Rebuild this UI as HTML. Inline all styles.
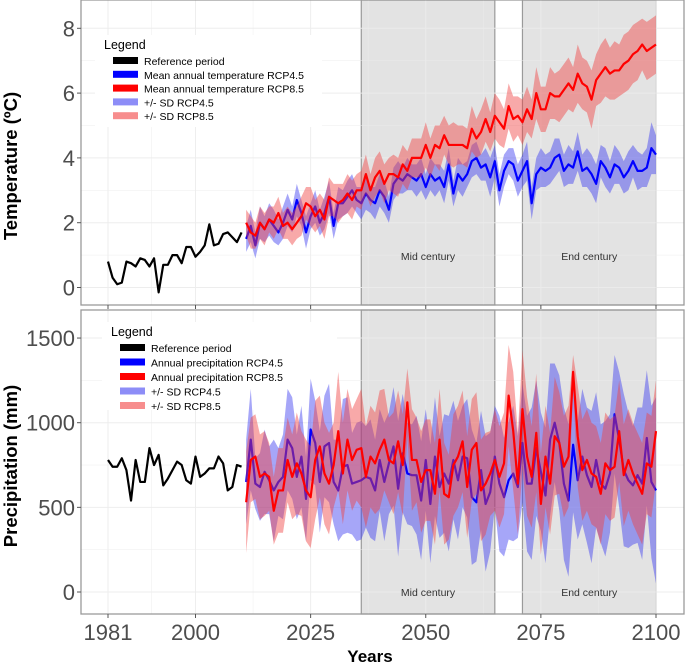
<!DOCTYPE html>
<html><head><meta charset="utf-8"><style>
html,body{margin:0;padding:0;background:#fff;}
svg{display:block;font-family:"Liberation Sans",sans-serif;}
</style></head><body>
<svg id="chart" width="685" height="665" viewBox="0 0 685 665" xmlns="http://www.w3.org/2000/svg"></svg>
<script>
const refYears=[1981,1982,1983,1984,1985,1986,1987,1988,1989,1990,1991,1992,1993,1994,1995,1996,1997,1998,1999,2000,2001,2002,2003,2004,2005,2006,2007,2008,2009,2010];
const xTicks=[1981,2000,2025,2050,2075,2100];
const tempTicks=[0,2,4,6,8];
const precTicks=[0,500,1000,1500];
const periods=[[2036,2065,"Mid century"],[2071,2100,"End century"]];
const refTemp=[0.8,0.3,0.1,0.15,0.8,0.75,0.65,0.9,0.85,0.65,0.9,-0.15,0.7,0.7,1.0,1.0,0.75,1.25,1.25,0.95,1.1,1.3,1.95,1.3,1.35,1.65,1.7,1.55,1.4,1.7];
const temp45=[1.5,1.9,1.3,2.0,1.8,2.1,1.9,1.7,2.0,2.4, 2.1,2.7,2.3,1.7,2.2,2.5,2.0,2.3,2.8,1.9, 2.6,2.6,2.8,3.0,2.7,2.6,2.9,2.7,2.6,3.0, 2.8,2.4,3.2,3.4,3.3,3.5,3.4,3.3,3.5,3.1, 3.5,3.3,3.4,3.1,3.8,2.9,3.5,3.3,3.5,3.9, 4.0,3.7,3.8,3.4,3.9,3.0,3.6,3.9,3.8,3.3, 3.6,3.9,2.6,3.5,3.7,3.6,3.7,4.0,4.1,3.6, 3.8,3.7,4.2,3.6,3.7,3.5,3.2,3.9,3.7,3.4, 3.8,3.7,3.4,3.6,3.9,3.6,3.6,3.7,4.3,4.1];
const sdTemp45=[0.4,0.5,0.4,0.5,0.4,0.5,0.5,0.4,0.5,0.5, 0.4,0.5,0.4,0.5,0.4,0.5,0.4,0.5,0.5,0.4, 0.5,0.4,0.5,0.5,0.4,0.5,0.5,0.4,0.5,0.5, 0.5,0.4,0.5,0.5,0.4,0.5,0.4,0.5,0.5,0.4, 0.5,0.5,0.4,0.5,0.5,0.4,0.5,0.5,0.4,0.5, 0.5,0.4,0.5,0.6,0.5,0.5,0.5,0.4,0.5,0.5, 0.5,0.6,0.5,0.5,0.6,0.5,0.5,0.6,0.5,0.5, 0.6,0.5,0.6,0.5,0.6,0.6,0.6,0.5,0.6,0.5, 0.6,0.5,0.5,0.6,0.5,0.6,0.5,0.6,0.8,0.6];
const temp85=[2.0,1.7,1.6,2.0,1.8,2.1,2.0,2.3,1.9,2.0, 1.8,2.0,2.2,2.6,2.5,2.2,2.4,2.1,2.8,2.7, 2.6,2.7,2.9,2.7,3.0,3.0,3.5,3.0,3.4,3.6, 3.2,3.5,3.5,3.4,3.8,3.6,4.0,4.0,4.0,4.4, 4.0,4.4,4.3,4.7,4.4,4.4,4.4,4.4,4.3,4.9, 4.6,4.8,5.2,4.8,5.3,5.1,4.9,5.6,5.2,5.3, 5.1,5.5,5.2,6.0,5.5,5.5,6.0,5.9,5.9,6.1, 6.3,6.1,6.6,6.3,6.2,5.8,6.4,6.6,6.8,6.6, 6.7,6.7,6.9,7.0,7.2,7.3,7.5,7.3,7.4,7.5];
const sdTemp85=[0.4,0.5,0.4,0.5,0.5,0.4,0.5,0.5,0.4,0.5, 0.5,0.5,0.6,0.5,0.6,0.5,0.5,0.6,0.6,0.5, 0.6,0.5,0.6,0.6,0.5,0.6,0.6,0.5,0.6,0.6, 0.6,0.5,0.6,0.6,0.6,0.6,0.6,0.6,0.6,0.7, 0.6,0.6,0.7,0.6,0.6,0.7,0.6,0.6,0.6,0.7, 0.6,0.7,0.7,0.6,0.7,0.7,0.6,0.7,0.7,0.6, 0.7,0.7,0.6,0.8,0.7,0.7,0.8,0.7,0.8,0.8, 0.8,0.7,0.9,0.8,0.8,0.9,0.8,0.9,0.9,0.8, 0.9,0.8,0.9,0.9,0.9,0.9,0.8,0.9,0.9,0.9];
const refPrec=[780,740,740,790,720,540,780,650,650,850,750,810,630,670,720,770,750,660,640,800,680,700,730,730,800,760,600,620,750,740];
const prec45=[650,900,640,620,710,660,600,650,680,900, 850,680,800,550,960,880,650,860,880,650, 600,740,750,640,650,660,680,670,600,780, 650,760,860,610,820,700,690,690,540,780, 520,800,620,700,640,780,660,800,790,560, 530,720,520,590,800,640,560,660,700,620, 880,640,640,850,710,570,900,1000,880,640, 540,870,660,800,690,620,780,640,610,700, 1050,900,720,660,630,690,640,910,650,600];
const sdPrec45=[250,300,150,200,250,200,300,200,250,300, 300,250,300,250,300,250,300,300,350,250, 300,400,400,300,350,350,300,350,300,300, 350,300,350,400,350,300,300,350,350,300, 350,350,300,350,400,350,350,300,350,400, 350,350,400,350,300,400,350,350,400,300, 350,400,450,400,350,400,450,350,400,450, 450,400,350,400,400,450,400,350,400,350, 350,400,450,400,350,400,450,400,450,550];
const prec85=[530,780,800,680,700,680,480,600,600,780, 680,760,700,600,560,780,860,700,640,750, 950,700,900,780,840,850,680,800,760,840, 900,780,760,890,750,1120,780,780,650,720, 720,580,900,580,560,750,800,890,620,840, 880,600,640,700,780,680,760,1160,950,640, 1080,800,680,940,520,800,640,920,880,740, 800,1300,920,720,780,700,680,580,760,720, 740,950,690,780,700,640,580,760,740,950];
const sdPrec85=[300,250,250,250,250,200,200,250,250,250, 250,300,250,300,300,350,300,300,300,250, 350,300,300,300,300,350,300,300,300,350, 300,250,300,300,300,200,300,250,300,300, 300,300,300,300,250,300,300,300,300,300, 300,300,300,250,300,300,300,300,350,300, 350,350,300,350,300,300,300,350,300,300, 300,100,300,300,300,300,300,300,300,300, 300,300,300,300,300,300,300,300,300,300];

const NS="http://www.w3.org/2000/svg";
const svg=document.getElementById('chart');
function mk(tag,attrs,parent){const e=document.createElementNS(NS,tag);for(const k in attrs)e.setAttribute(k,attrs[k]);(parent||svg).appendChild(e);return e;}
const X=y=>108+(y-1981)*(656-108)/119;
const projYears=[];for(let y=2011;y<=2100;y++)projYears.push(y);

function panel(cfg){
  const g=mk('g',{});
  
  
  const Y=cfg.Y;
  mk('rect',{x:81,y:cfg.top,width:603,height:cfg.bottom-cfg.top,fill:'#fff'},g);
  periods.forEach(p=>{
    const r=mk('rect',{x:X(p[0]),y:cfg.top,width:X(p[1])-X(p[0]),height:cfg.bottom-cfg.top,fill:'#e3e3e3',stroke:'#9a9a9a','stroke-width':1.2},g);
    
    
  });
  const gl=mk('g',{stroke:'#ececec','stroke-width':1,opacity:0.9},g);
  xTicks.forEach(t=>mk('line',{x1:X(t),x2:X(t),y1:cfg.top,y2:cfg.bottom},gl));
  for(let i=0;i<xTicks.length-1;i++){const m=(xTicks[i]+xTicks[i+1])/2;mk('line',{x1:X(m),x2:X(m),y1:cfg.top,y2:cfg.bottom,'stroke-width':0.5},gl);}
  cfg.ticks.forEach(t=>mk('line',{x1:81,x2:684,y1:Y(t),y2:Y(t)},gl));
  for(let i=0;i<cfg.ticks.length-1;i++){const m=(cfg.ticks[i]+cfg.ticks[i+1])/2;mk('line',{x1:81,x2:684,y1:Y(m),y2:Y(m),'stroke-width':0.5},gl);}
  periods.forEach(p=>{
    const t=mk('text',{x:(X(p[0])+X(p[1]))/2,y:cfg.labelY,'font-size':10.5,fill:'#333','text-anchor':'middle'},g);
    t.textContent=p[2];
    
    
  });
  mk('rect',{x:cfg.leg.x-18,y:cfg.leg.y-14,width:cfg.leg.w,height:cfg.leg.h,fill:'#fff'},g);
  function band(vals,sd,color,name){
    let d='';projYears.forEach((yr,i)=>{d+=(i?'L':'M')+X(yr)+','+Y(vals[i]+sd[i]);});
    for(let i=projYears.length-1;i>=0;i--)d+='L'+X(projYears[i])+','+Y(vals[i]-sd[i]);
    const p=mk('path',{d:d+'Z',fill:color,opacity:0.45},g);
    
    
  }
  function line(years,vals,color,name){
    const p=mk('path',{d:years.map((yr,i)=>(i?'L':'M')+X(yr)+','+Y(vals[i])).join(''),fill:'none',stroke:color,'stroke-width':2.2,'stroke-linejoin':'round'},g);
    
    
  }
  band(cfg.s45,cfg.sd45,'#3a3af0',cfg.prefix+'-sd-band-rcp45');
  line(projYears,cfg.s45,'#0000ff',cfg.prefix+'-line-rcp45');
  band(cfg.s85,cfg.sd85,'#f04040',cfg.prefix+'-sd-band-rcp85');
  line(projYears,cfg.s85,'#ff0000',cfg.prefix+'-line-rcp85');
  line(refYears,cfg.ref,'#000',cfg.prefix+'-line-reference');
  mk('rect',{x:81,y:cfg.top,width:603,height:cfg.bottom-cfg.top,fill:'none',stroke:'#9a9a9a','stroke-width':1.3},g);
  cfg.ticks.forEach(t=>{
    mk('line',{x1:77,x2:81,y1:Y(t),y2:Y(t),stroke:'#555'},g);
    const tx=mk('text',{x:75,y:Y(t)+8,'font-size':22,fill:'#4d4d4d','text-anchor':'end'},g);
    tx.textContent=t;
    
    
  });
  xTicks.forEach(t=>mk('line',{x1:X(t),x2:X(t),y1:cfg.bottom,y2:cfg.bottom+4,stroke:'#555'},g));
  const yt=mk('text',{x:0,y:0,'font-size':18.5,'font-weight':'bold',fill:'#000','text-anchor':'middle',transform:`translate(17,${cfg.titleY}) rotate(-90)`},g);
  yt.textContent=cfg.title;
  
  
  const lg=mk('g',{},g);
  
  
  const lt=mk('text',{x:cfg.leg.x-9,y:cfg.leg.y,'font-size':12.5,fill:'#000'},lg);
  lt.textContent='Legend';
  
  
  cfg.legItems.forEach((it,i)=>{
    const yy=cfg.leg.y+16+i*cfg.leg.step;
    mk('rect',{x:cfg.leg.x,y:yy-8,width:25,height:7,fill:it[1],opacity:it[2]},lg);
    const tx=mk('text',{x:cfg.leg.x+31,y:yy,'font-size':10.5,fill:'#000'},lg);
    tx.textContent=it[0];
    
    
  });
}

panel({name:'temperature-panel',prefix:'temp',top:0,bottom:305,Y:v=>287.5-v*32.4,ticks:tempTicks,
  s45:temp45,sd45:sdTemp45,s85:temp85,sd85:sdTemp85,ref:refTemp,labelY:260,title:'Temperature (ºC)',titleY:166,
  leg:{x:113,y:49,w:227,h:92,step:13.8},
  legItems:[['Reference period','#000',1],['Mean annual temperature RCP4.5','#0000ff',1],['Mean annual temperature RCP8.5','#ff0000',1],['+/- SD RCP4.5','#7070f5',0.8],['+/- SD RCP8.5','#f57070',0.8]]});
panel({name:'precipitation-panel',prefix:'prec',top:310,bottom:614,Y:v=>592-v*0.1693,ticks:precTicks,
  s45:prec45,sd45:sdPrec45,s85:prec85,sd85:sdPrec85,ref:refPrec,labelY:596,title:'Precipitation (mm)',titleY:466,
  leg:{x:120,y:336,w:235,h:88,step:14.5},
  legItems:[['Reference period','#000',1],['Annual precipitation RCP4.5','#0000ff',1],['Annual precipitation RCP8.5','#ff0000',1],['+/- SD RCP4.5','#7070f5',0.8],['+/- SD RCP8.5','#f57070',0.8]]});

xTicks.forEach(t=>{
  const tx=mk('text',{x:X(t),y:640,'font-size':22,fill:'#4d4d4d','text-anchor':'middle'});
  tx.textContent=t;
  
  
});
const xt=mk('text',{x:370,y:662,'font-size':17,'font-weight':'bold',fill:'#000','text-anchor':'middle'});
xt.textContent='Years';


</script>
</body></html>
